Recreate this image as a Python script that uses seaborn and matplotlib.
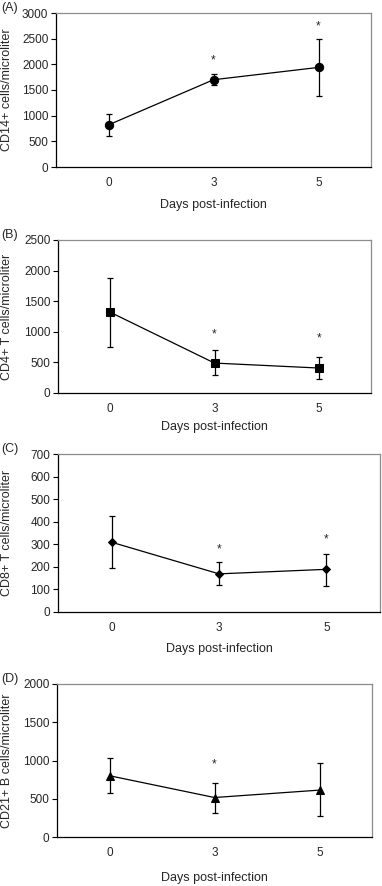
import pandas as pd
import matplotlib.pyplot as plt
import numpy as np
import seaborn as sns

# values (cells per microliter)
days = ['0', '3', '5']

cd14_mean = [820, 1700, 1940]
cd14_low = [600, 1590, 1385]
cd14_high = [1040, 1810, 2490]
cd14_star = [None, 2080, 2740]

cd4_mean = [1320, 489, 408]
cd4_low = [750, 288, 234]
cd4_high = [1886, 696, 587]
cd4_star = [None, 962, 897]

cd8_mean = [309, 169, 189]
cd8_low = [197, 119, 116]
cd8_high = [426, 220, 258]
cd8_star = [None, 276, 323]

cd21_mean = [801, 516, 613]
cd21_low = [573, 311, 276]
cd21_high = [1037, 709, 963]
cd21_star = [None, 950, None]

panels = [
    ('(A)', 'CD14+ cells/microliter', cd14_mean, cd14_low, cd14_high, cd14_star, 'o', 3000, 500),
    ('(B)', 'CD4+ T cells/microliter', cd4_mean, cd4_low, cd4_high, cd4_star, 's', 2500, 500),
    ('(C)', 'CD8+ T cells/microliter', cd8_mean, cd8_low, cd8_high, cd8_star, 'D', 700, 100),
]
panels.append(('(D)', 'CD21+ B cells/microliter', cd21_mean, cd21_low, cd21_high, cd21_star, '^', 2000, 500))

# axes boxes in pixels: left, right, top, bottom ; xlabel centre
W, H = 382, 886
boxes = [(56, 371, 13, 167, 205), (58, 371, 240, 393, 427),
         (58, 380, 454, 612, 649), (57, 372, 684, 837, 878)]

sns.set_style('white')
plt.rcParams['font.family'] = ['Liberation Sans', 'DejaVu Sans']
plt.rcParams['font.size'] = 8

fig = plt.figure(figsize=(W / 100, H / 100), dpi=100)

for (tag, ylab, mean, low, high, star, mk, ymax, ystep), (l, r, t, b, xl) in zip(panels, boxes):
    ax = fig.add_axes([l / W, 1 - b / H, (r - l) / W, (b - t) / H])
    df = pd.DataFrame({'day': days, 'count': mean})
    sns.lineplot(data=df, x='day', y='count', marker=mk, color='black', lw=0.9,
                 markersize=6 if mk != 'D' else 4.5, markeredgecolor='black', ax=ax)
    err = [np.array(mean) - np.array(low), np.array(high) - np.array(mean)]
    ax.errorbar(days, mean, yerr=err, fmt='none', ecolor='black', elinewidth=0.9, capsize=2.5,
                capthick=0.9)
    for d, s in zip(days, star):
        if s is not None:
            ax.text(days.index(d), s, '*', ha='center', va='center', fontsize=8.5)

    ax.set_xlim(-0.5, len(days) - 0.5)
    ax.set_ylim(0, ymax)
    ax.set_yticks(np.arange(0, ymax + 1, ystep))
    ax.set_xticks(np.arange(-0.5, len(days), 1.0), minor=True)
    ax.tick_params(axis='x', which='major', length=0, pad=7.5, labelsize=8.5)
    ax.tick_params(axis='x', which='minor', length=3.5, width=0.8, direction='out', color='black')
    ax.tick_params(axis='y', length=3.5, width=0.8, direction='out', color='black', pad=2, labelsize=8.5,
                   left=True)
    ax.set_xlabel('Days post-infection', fontsize=9)
    ax.set_ylabel(ylab, fontsize=9)
    ax.xaxis.set_label_coords(0.5, -(xl - 6 - b) / (b - t))
    ax.yaxis.set_label_coords(-(l - 13) / (r - l), 0.5)
    for side in ['left', 'bottom']:
        ax.spines[side].set_color('black')
        ax.spines[side].set_linewidth(0.9)
    for side in ['top', 'right']:
        ax.spines[side].set_color('#8c8c8c')
        ax.spines[side].set_linewidth(0.9)
    fig.text(1 / W, 1 - (t - 5) / H, tag, ha='left', va='center', fontsize=9)

plt.savefig('out.png', dpi=100)
